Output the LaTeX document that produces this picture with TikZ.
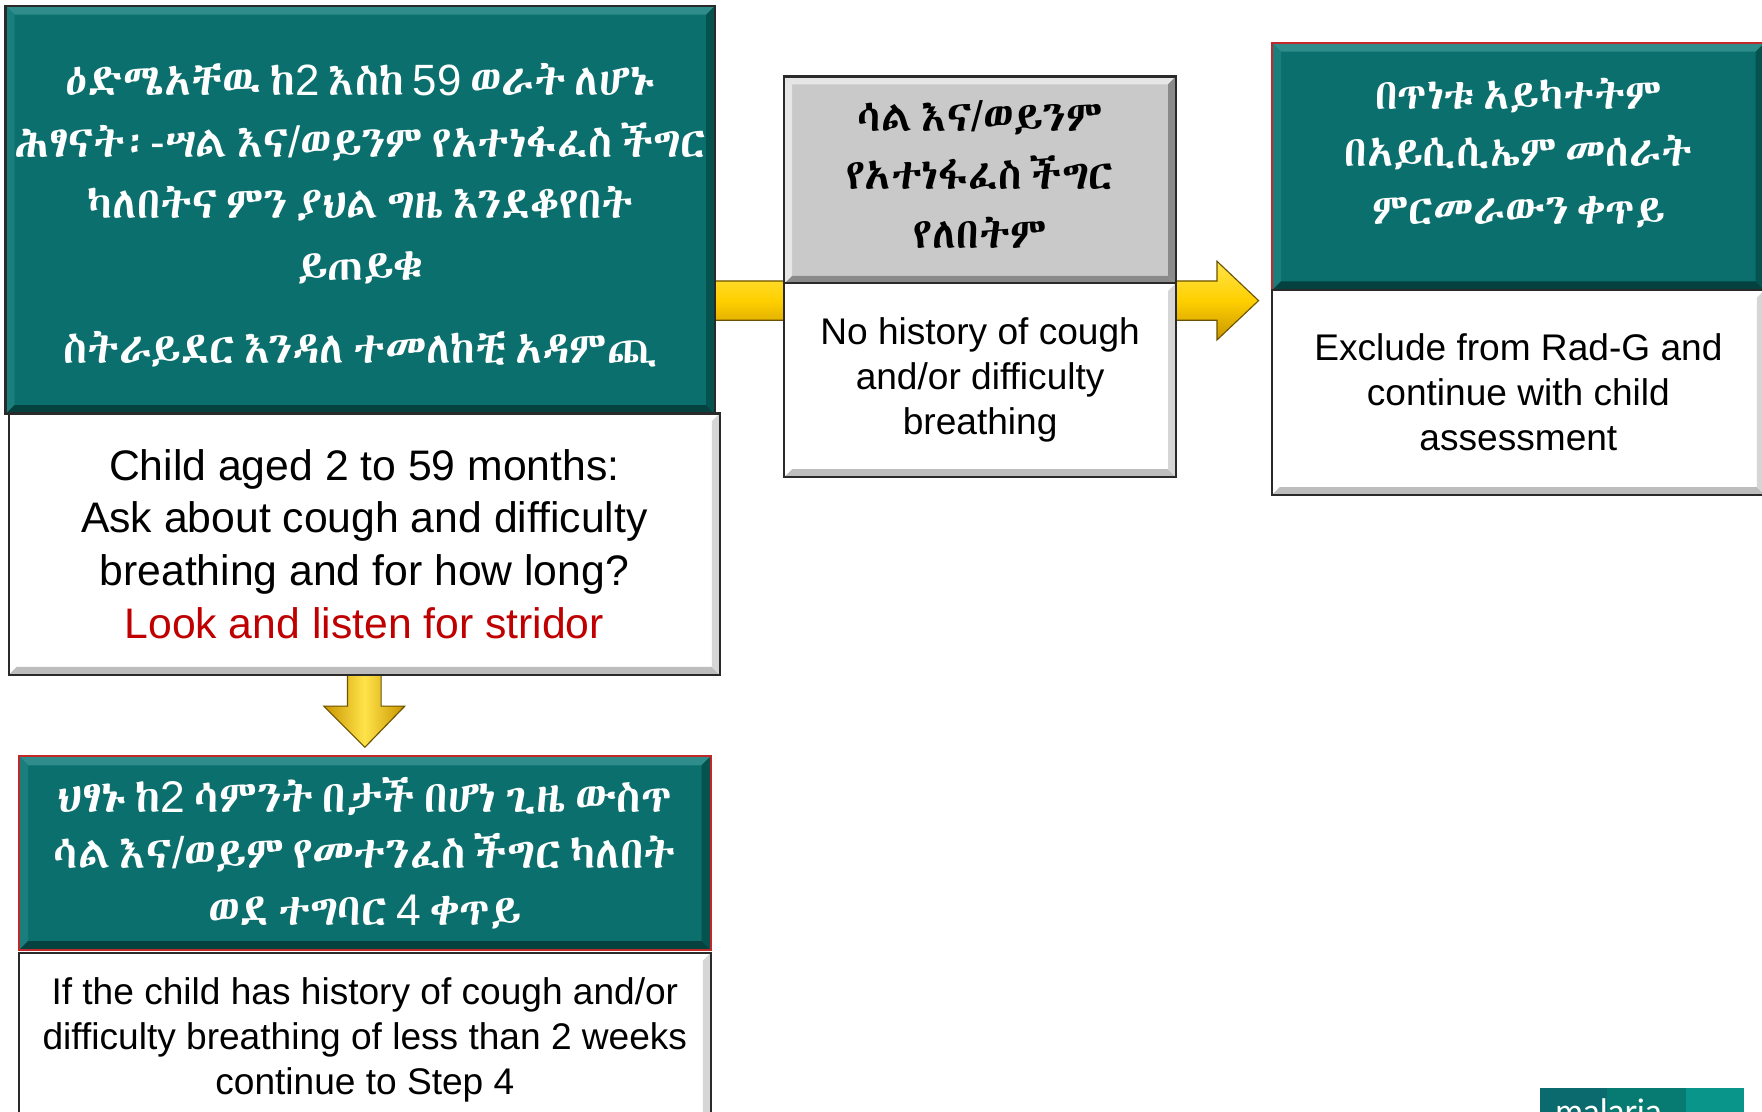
\documentclass[tikz,border=0pt]{standalone}
\usepackage{fontspec}
\setmainfont{Liberation Sans}
\newfontfamily\logofont{Lato}
\newfontfamily\arialfont{Liberation Sans}
\IfFontExistsTF{Abyssinica SIL}{\newfontfamily\ethfont[WordSpace=0.45]{Abyssinica SIL}}{%
 \IfFontExistsTF{Noto Sans Ethiopic}{\newfontfamily\ethfont[WordSpace=0.45]{Noto Sans Ethiopic}}{%
  \IfFontExistsTF{Noto Serif Ethiopic}{\newfontfamily\ethfont[WordSpace=0.45]{Noto Serif Ethiopic}}{%
   \IfFontExistsTF{FreeSerif}{\newfontfamily\ethfont[WordSpace=0.45]{FreeSerif}}{\newfontfamily\ethfont{DejaVu Sans}}}}}
\newcommand\ar[1]{{\arialfont #1}}
\usetikzlibrary{calc}
\pgfdeclarelayer{bg}
\pgfsetlayers{bg,main}
\definecolor{tealA}{HTML}{0A6F6D}
\definecolor{tealL}{HTML}{2E8C8A}
\definecolor{tealM}{HTML}{1A7E7C}
\definecolor{tealD}{HTML}{05413F}
\definecolor{tealR}{HTML}{06524F}
\definecolor{boxgray}{HTML}{C9C9C9}
\definecolor{grayL}{HTML}{E6E6E6}
\definecolor{grayD}{HTML}{8A8A8A}
\definecolor{whiteD}{HTML}{BDBDBD}
\definecolor{whiteM}{HTML}{D6D6D6}
\definecolor{redtxt}{HTML}{C00000}
\definecolor{redline}{HTML}{C0282A}
\definecolor{edge}{HTML}{2A2A2A}
\definecolor{goldT}{HTML}{FFE34A}
\definecolor{goldM}{HTML}{FFD000}
\definecolor{goldB}{HTML}{C99500}
\definecolor{goldline}{HTML}{6B5200}
\definecolor{logoA}{HTML}{0B6A6E}
\definecolor{logoB}{HTML}{077B72}
\definecolor{logoC}{HTML}{0A958B}
% bevel: name, top, left, bottom, right, width, border colour
\newcommand\bevelrim[7]{%
  \fill[#2] (#1.north west) -- (#1.north east) -- ([shift={(-#6,#6)}]#1.north east) -- ([shift={(#6,#6)}]#1.north west) -- cycle;
  \fill[#3] (#1.north west) -- (#1.south west) -- ([shift={(#6,-#6)}]#1.south west) -- ([shift={(#6,#6)}]#1.north west) -- cycle;
  \fill[#4] (#1.south west) -- (#1.south east) -- ([shift={(-#6,-#6)}]#1.south east) -- ([shift={(#6,-#6)}]#1.south west) -- cycle;
  \fill[#5] (#1.north east) -- (#1.south east) -- ([shift={(-#6,-#6)}]#1.south east) -- ([shift={(-#6,#6)}]#1.north east) -- cycle;
  \draw[#7, line width=2pt] (#1.north west) rectangle (#1.south east);
}
\tikzset{
  boxbase/.style={rectangle, inner sep=0pt, anchor=north west, align=center},
  tealbox/.style={boxbase, fill=tealA, text=white},
  whitebox/.style={boxbase, fill=white, text=black, font=\fontsize{33}{40}\selectfont},
  graybox/.style={boxbase, fill=boxgray, text=black},
  ethtext/.style={inner sep=0pt, align=center},
  goldfill/.style={top color=goldT, bottom color=goldB, middle color=goldM, draw=goldline, line width=1pt},
  goldfillv/.style={left color=goldB, right color=goldB, middle color=goldT, draw=goldline, line width=1pt},
}
\begin{document}
\begin{tikzpicture}[x=1pt, y=-1pt]
\begin{pgfonlayer}{bg}
\fill[white] (0,0) rectangle (1568,989);
\end{pgfonlayer}
\useasboundingbox (0,0) rectangle (1568,989);

% top-left teal box
\node[tealbox, minimum width=631pt, minimum height=363pt] (t1) at (5,5) {};
\bevelrim{t1}{tealL}{tealM}{tealD}{tealR}{8}{edge}
\node[ethtext, text=white, font=\ethfont\fontsize{39}{55}\selectfont] (t1txt) at ($(t1.center)+(0,5)$)
 {ዕድሜአቸዉ ከ\ar{2} እስከ \ar{59} ወራት ለሆኑ\\
  ሕፃናት፡\ar{-}ሣል እና\ar{/}ወይንም የአተነፋፈስ ችግር\\
  ካለበትና ምን ያህል ግዜ እንደቆየበት\\
  ይጠይቁ\\[19pt]
  ስትራይደር እንዳለ ተመለከቺ አዳምጪ};

\node[whitebox, font=\fontsize{38}{47}\selectfont, minimum width=632pt, minimum height=232pt] (w1) at (8,368)
 {Child aged 2 to 59 months:\\
  Ask about cough and difficulty\\
  breathing and for how long?\\
  \textcolor{redtxt}{Look and listen for stridor}};
\bevelrim{w1}{white}{white}{whiteD}{whiteM}{7}{edge}

% middle boxes
\node[graybox, minimum width=348pt, minimum height=184pt] (g2) at (698,68) {};
\bevelrim{g2}{grayL}{grayL}{grayD}{grayD}{7}{edge}
\node[ethtext, text=black, font=\ethfont\fontsize{38}{52}\selectfont] (g2txt) at ($(g2.center)+(0,-5)$)
 {ሳል እና\ar{/}ወይንም\\ የአተነፋፈስ ችግር\\ የለበትም};

\node[whitebox, minimum width=348pt, minimum height=172pt] (w2) at (698,252)
 {No history of cough\\ and/or difficulty\\ breathing};
\bevelrim{w2}{white}{white}{whiteD}{whiteM}{7}{edge}

% right boxes
\node[tealbox, minimum width=438pt, minimum height=220pt] (t3) at (1132,38) {};
\bevelrim{t3}{tealL}{tealM}{tealD}{tealR}{8}{redline}
\node[ethtext, text=white, font=\ethfont\fontsize{38}{51}\selectfont] (t3txt) at ($(t3.center)+(0,-12)$)
 {በጥነቱ አይካተትም\\ በአይሲሲኤም መሰራት\\ ምርመራውን ቀጥይ};

\node[whitebox, minimum width=438pt, minimum height=182pt] (w3) at (1132,258)
 {Exclude from Rad-G and\\ continue with child\\ assessment};
\bevelrim{w3}{white}{white}{whiteD}{whiteM}{7}{edge}

% bottom boxes
\node[tealbox, minimum width=615pt, minimum height=172pt] (t4) at (17,673) {};
\bevelrim{t4}{tealL}{tealM}{tealD}{tealR}{8}{redline}
\node[ethtext, text=white, font=\ethfont\fontsize{39.5}{50}\selectfont] (t4txt) at (t4.center)
 {ህፃኑ ከ\ar{2} ሳምንት በታች በሆነ ጊዜ ውስጥ\\
  ሳል እና\ar{/}ወይም የመተንፈስ ችግር ካለበት\\
  ወደ ተግባር \ar{4} ቀጥይ};

\node[whitebox, minimum width=615pt, minimum height=154pt] (w4) at (17,848)
 {If the child has history of cough and/or\\
  difficulty breathing of less than 2 weeks\\
  continue to Step 4};
\bevelrim{w4}{white}{white}{whiteD}{whiteM}{7}{edge}

% connectors (behind boxes)
\coordinate (yrow) at (0,267.5);
\coordinate (a0) at (t1.east |- yrow);
\coordinate (a1) at ($(t3.west |- yrow)+(-12,0)$);
\coordinate (d0) at (w1.south);
\coordinate (d1) at ($(t4.north)+(0,-8)$);
\begin{pgfonlayer}{bg}
\path[goldfill] ($(a0)+(-4,-17.5)$) -- ($(a1)+(-37,-17.5)$) -- ($(a1)+(-37,-35)$) -- (a1)
  -- ($(a1)+(-37,35)$) -- ($(a1)+(-37,17.5)$) -- ($(a0)+(-4,17.5)$) -- cycle;
\path[goldfillv] ($(d0)+(-15,-4)$) -- ($(d0)+(-15,28)$) -- ($(d0)+(-36,28)$) -- (d1)
  -- ($(d0)+(36,28)$) -- ($(d0)+(15,28)$) -- ($(d0)+(15,-4)$) -- cycle;
\end{pgfonlayer}

% logo (cut off at the bottom edge)
\fill[logoA] (1370,968) rectangle (1430,995);
\fill[logoB] (1430,968) rectangle (1500,995);
\fill[logoC] (1500,968) rectangle (1552,995);
\node[anchor=base west, inner sep=0pt, text=white, font=\logofont\fontsize{30}{30}\selectfont] (logo) at (1384,1000) {malaria};
\end{tikzpicture}
\end{document}
